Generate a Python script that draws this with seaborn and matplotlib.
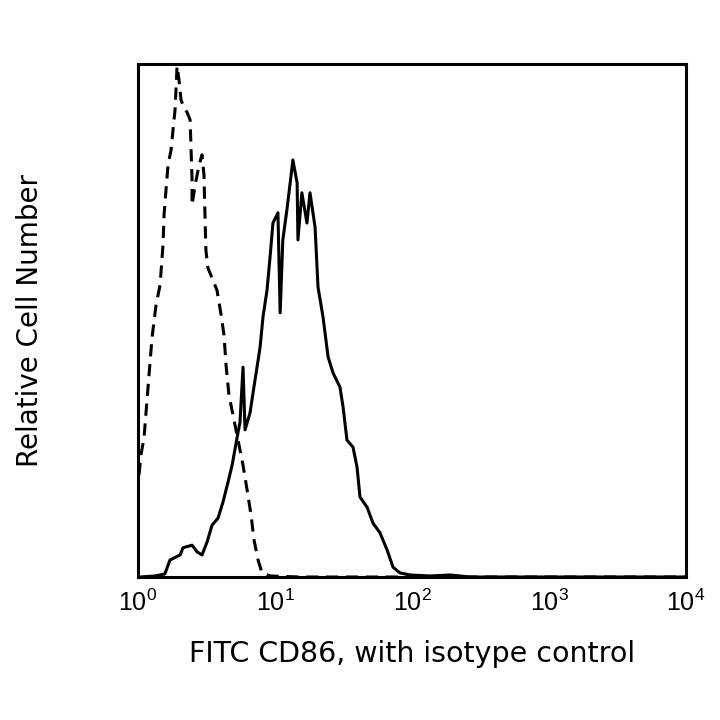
import matplotlib
matplotlib.use("Agg")
import matplotlib.pyplot as plt
import seaborn as sns
import pandas as pd
from matplotlib.ticker import LogFormatterMathtext, NullLocator

# Isotype control (dashed) histogram: fluorescence intensity vs relative count (%)
iso_x = [1.017, 1.05, 1.106, 1.163, 1.203, 1.265, 1.353, 1.448, 1.521, 1.549, 1.60, 1.656,
         1.741, 1.80, 1.862, 1.893, 1.927, 1.992, 2.06, 2.17, 2.28, 2.40, 2.44, 2.48, 2.48,
         2.61, 2.79, 2.93, 3.03, 3.08, 3.13, 3.24, 3.47, 3.77, 4.04, 4.24, 4.39, 4.61, 5.02,
         5.37, 5.84, 6.25, 6.68, 7.03, 7.52, 8.04, 9.2, 15.3, 10000]
iso_y = [19.9, 23.8, 27.1, 34.5, 39.4, 46.6, 53.0, 56.9, 64.7, 70.6, 75.4, 80.3,
         83.2, 87.1, 91.0, 94.9, 99.6, 96.9, 93.0, 91.4, 90.6, 89.1, 83.2, 77.4, 72.5,
         76.4, 80.3, 82.3, 78.4, 70.6, 63.7, 60.2, 58.3, 55.9, 51.1, 47.2, 41.3, 35.5, 30.6,
         26.7, 21.8, 17.0, 12.1, 7.2, 3.3, 0.8, 0.2, 0.0, 0.0]

# FITC CD86 (solid) histogram
cd86_x = [1.03, 1.33, 1.57, 1.71, 1.89, 2.03, 2.13, 2.48, 2.70, 2.93, 3.19, 3.47, 3.84,
          4.17, 4.54, 4.86, 5.28, 5.55, 5.84, 6.04, 6.57, 6.91, 7.39, 7.78, 8.17, 8.74,
          9.20, 9.66, 10.5, 10.9, 11.4, 12.2, 12.9, 13.5, 14.5, 14.7, 15.7, 17.1, 18.0,
          19.6, 20.6, 22.4, 24.4, 26.5, 29.8, 31.4, 33.5, 37.1, 39.7, 41.7, 47.0, 51.9,
          58.4, 65.7, 72.7, 81.7, 96.7, 135, 190, 265, 10000]
cd86_y = [0.0, 0.2, 0.6, 3.3, 3.9, 4.3, 5.7, 6.2, 4.9, 4.3, 6.8, 10.1, 11.5,
          14.6, 18.5, 21.8, 27.1, 30.2, 40.9, 28.7, 32.0, 35.9, 40.9, 44.8, 50.7, 55.9,
          62.4, 69.0, 71.0, 51.5, 65.7, 71.5, 76.8, 81.3, 76.8, 65.7, 74.9, 69.0, 74.9,
          68.2, 56.5, 50.7, 42.9, 39.8, 37.0, 33.1, 26.7, 25.3, 21.4, 15.6, 13.6, 10.5,
          8.6, 5.3, 1.9, 0.8, 0.4, 0.2, 0.4, 0.0, 0.0]

x_ticks = [1, 10, 100, 1000, 10000]
x_label = "FITC CD86, with isotype control"
y_label = "Relative Cell Number"

sns.set_theme(style="white")
plt.rcParams['font.family'] = ['Liberation Sans', 'DejaVu Sans']

iso = pd.DataFrame({"x": iso_x, "y": iso_y})
cd86 = pd.DataFrame({"x": cd86_x, "y": cd86_y})

fig = plt.figure(figsize=(7.2, 7.2), dpi=100)
ax = fig.add_axes([0.1917, 0.1986, 0.7611, 0.7125])

sns.lineplot(data=iso, x="x", y="y", ax=ax, sort=False, estimator=None,
             color="black", linewidth=2.2, linestyle=(0, (4, 2.5)))
sns.lineplot(data=cd86, x="x", y="y", ax=ax, sort=False, estimator=None,
             color="black", linewidth=2.2)

ax.set_xscale("log")
ax.set_xlim(1, 10000)
ax.set_ylim(0, 100)
ax.set_xticks(x_ticks)
ax.xaxis.set_major_formatter(LogFormatterMathtext(base=10))
ax.xaxis.set_minor_locator(NullLocator())
ax.set_yticks([])
ax.tick_params(axis="x", length=0, pad=9, labelsize=18, colors="black")

for s in ax.spines.values():
    s.set_visible(True)
    s.set_color("black")
    s.set_linewidth(2.2)

ax.set_xlabel(x_label, fontsize=20.5, color="black", family=['DejaVu Sans'])
ax.set_ylabel(y_label, fontsize=20, color="black", family=['DejaVu Sans'])
ax.yaxis.set_label_coords(-0.172, 0.5)
ax.xaxis.set_label_coords(0.5, -0.122)

fig.savefig("out.png", dpi=100, facecolor="white")
